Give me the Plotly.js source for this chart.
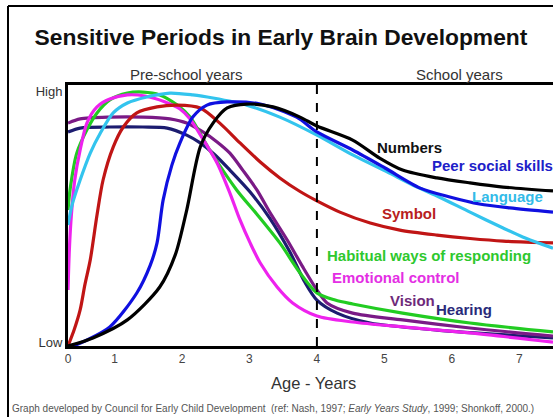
<!DOCTYPE html>
<html>
<head>
<meta charset="utf-8">
<script src="https://cdn.plot.ly/plotly-3.0.1.min.js"></script>
<style>html,body{margin:0;padding:0;background:#fff;}#chart{width:553px;height:417px;}</style>
</head>
<body>
<div id="chart"></div>
<script>
// Age (years) and relative sensitivity (0 = Low, 100 = High)
const numbersX = [0.31,0.68,1.19,1.67,1.90,2.07,2.27,2.46,2.67,2.96,3.35,3.75,4.0,4.53,4.93,5.27,5.78,6.27,6.76,7.5];
const numbersY = [0,3.1,10,22.6,34.9,52.1,76.2,85.4,91.2,92.7,91.6,87.7,84.3,78.9,72,67.4,64.4,62.5,60.9,59.4];

const peerX = [0.39,0.56,0.93,1.33,1.53,1.63,1.72,1.85,1.97,2.16,2.37,2.67,3.16,3.70,4.0,4.53,5.01,5.53,5.97,6.41,6.86,7.5];
const peerY = [0,1.9,7.3,20.3,31,39.5,55.9,69.3,77.8,87.7,92.3,93.5,92.7,87.7,82,75.1,68.2,60.5,57.1,54.4,52.9,51.3];

const languageX = [0.31,0.37,0.49,0.64,0.79,0.98,1.19,1.48,1.82,2.16,2.46,2.96,3.45,4.0,4.53,5.04,5.42,5.78,6.27,6.76,7.05,7.5];
const languageY = [46.4,54,63.6,73.9,81.6,89.3,93.1,95.4,96.9,96.2,95,92.3,87.7,80.8,73.2,66.7,61.7,57.5,51.3,45.2,41.8,37.5];

const symbolX = [0.31,0.40,0.49,0.56,0.64,0.74,0.83,0.98,1.13,1.33,1.63,1.93,2.27,2.56,2.86,3.16,3.45,3.75,4.0,4.34,4.79,5.23,5.78,6.27,6.76,7.5];
const symbolY = [0,6.1,13.8,23.4,33,50.2,63.6,76.2,83.9,89.3,91.6,92.3,91.2,85.4,77.8,70.5,64.4,59.2,55.6,51.3,47.1,44.4,42.5,41.2,40.2,39.5];

const habitualX = [0.31,0.34,0.44,0.59,0.74,0.93,1.19,1.42,1.67,1.93,2.12,2.41,2.81,3.11,3.45,3.75,4.0,4.27,4.53,5.27,6.27,7.5];
const habitualY = [52.1,59.8,73.9,82.8,89.3,94.3,96.9,97.3,96.2,92.3,87.7,75.1,59.8,50.5,39.5,28,20.3,17.6,16.1,12.6,8.8,5.4];

const emotionalX = [0.31,0.33,0.36,0.41,0.49,0.59,0.74,0.93,1.19,1.45,1.75,1.97,2.12,2.31,2.52,2.71,2.86,3.01,3.16,3.41,3.64,4.0,4.53,5.27,6.27,7.5];
const emotionalY = [21.5,36.8,50.2,63.6,75.1,85.4,91.6,94.6,96.2,95.8,93.5,90.8,87,79.3,70.1,58.6,48.3,39.5,31.8,22.6,16.5,11.5,9.2,7.3,5,1.5];

const visionX = [0.31,0.49,0.93,1.42,1.82,2.07,2.31,2.52,2.71,2.90,3.11,3.30,3.56,3.79,4.0,4.15,4.53,5.27,6.27,7.5];
const visionY = [85.4,87,87.7,87.7,87,85.4,82,78.2,73.9,67.4,59.8,51.3,40.6,30.3,21.5,16.5,12.6,10,6.9,3.8];

const hearingX = [0.31,0.49,0.93,1.42,1.78,2.07,2.27,2.49,2.71,3.01,3.30,3.60,3.82,4.0,4.30,4.79,5.78,7.5];
const hearingY = [82,83.5,83.9,83.9,83.5,80.8,77.8,73.2,67.4,59,49,36,24.5,17.6,12.6,8.8,6.1,3.1];

const seriesNames = ["Numbers","Peer social skills","Language","Symbol","Habitual ways of responding","Emotional control","Vision","Hearing"];
const tickVals = [0.31,1,2,3,4,5,6,7];
const tickText = ["0","1","2","3","4","5","6","7"];

const colors = ["#000000","#1010e0","#33c4ee","#c01515","#22cc22","#ee22ee","#7a1a86","#1c1c70"];
const labelColors = ["#111111","#2020c8","#33bbe8","#b82020","#2ec82e","#e42ee4","#6e2a7a","#2a2a7a"];
const xs = [numbersX,peerX,languageX,symbolX,habitualX,emotionalX,visionX,hearingX];
const ys = [numbersY,peerY,languageY,symbolY,habitualY,emotionalY,visionY,hearingY];
const labelPos = [[4.86,75.9],[5.68,69.3],[6.27,57.1],[4.94,50.6],[4.12,34.5],[4.19,26.1],[5.05,17.6],[5.74,13.8]];

// draw order: back to front
const order = [7,6,4,5,3,2,1,0];
const traces = order.map(i => ({
  x: xs[i], y: ys[i], type: "scatter", mode: "lines", name: seriesNames[i],
  line: {color: colors[i], width: 3.2, shape: "spline", smoothing: 0.8},
  hoverinfo: "name"
}));

const FONT = "Liberation Sans, Arial, sans-serif";
const annotations = seriesNames.map((n,i) => ({
  x: labelPos[i][0], y: labelPos[i][1], xref: "x", yref: "y", text: n,
  showarrow: false, xanchor: "left", yanchor: "middle",
  font: {family: FONT, size: 15, color: labelColors[i], weight: "bold"}
}));

const pxX = p => (p - 68) / 485;
const pxY = p => (346 - p) / 261;

annotations.push(
  {x: pxX(186), y: pxY(74), xref: "paper", yref: "paper", text: "Pre-school years", showarrow: false,
   xanchor: "center", yanchor: "middle", font: {family: FONT, size: 15, color: "#333"}},
  {x: pxX(459), y: pxY(74), xref: "paper", yref: "paper", text: "School years", showarrow: false,
   xanchor: "center", yanchor: "middle", font: {family: FONT, size: 15, color: "#333"}},
  {x: pxX(313), y: pxY(383), xref: "paper", yref: "paper", text: "Age - Years", showarrow: false,
   xanchor: "center", yanchor: "middle", font: {family: FONT, size: 16.5, color: "#333"}},
  {x: pxX(10), y: pxY(408), xref: "paper", yref: "paper",
   text: "Graph developed by Council for Early Child Development  (ref: Nash, 1997; <i>Early Years Study</i>, 1999; Shonkoff, 2000.)",
   showarrow: false, xanchor: "left", yanchor: "middle",
   font: {family: FONT, size: 10, color: "#555"}}
);

const layout = {
  width: 553, height: 417,
  margin: {l: 68, r: 0, t: 85, b: 71, pad: 0},
  paper_bgcolor: "#fff", plot_bgcolor: "#fff",
  showlegend: false,
  title: {text: "<b>Sensitive Periods in Early Brain Development</b>", x: 0.508, xanchor: "center", y: 1 - 37/417, yanchor: "middle",
          font: {family: FONT, size: 22.8, color: "#111"}},
  xaxis: {range: [0.31, 7.5], showgrid: false, zeroline: false, showline: true, linecolor: "#000", linewidth: 3,
          mirror: true, ticks: "", tickvals: tickVals, ticktext: tickText,
          tickfont: {family: FONT, size: 12, color: "#444"}},
  yaxis: {range: [0, 100], showgrid: false, zeroline: false, showline: true, linecolor: "#000", linewidth: 3,
          ticks: "", tickvals: [1.5, 97.7], ticktext: ["Low","High"],
          tickfont: {family: FONT, size: 13, color: "#333"}},
  annotations: annotations,
  shapes: [
    {type: "line", xref: "x", yref: "paper", x0: 4, x1: 4, y0: 0, y1: 1,
     line: {color: "#000", width: 2, dash: "dash"}},
    {type: "line", xref: "paper", yref: "paper", x0: pxX(8), x1: pxX(8), y0: pxY(430), y1: pxY(6),
     line: {color: "#000", width: 2}},
    {type: "line", xref: "paper", yref: "paper", x0: pxX(8), x1: pxX(570), y0: pxY(6), y1: pxY(6),
     line: {color: "#000", width: 2}}
  ]
};

Plotly.newPlot("chart", traces, layout, {displayModeBar: false, staticPlot: true});
</script>
</body>
</html>
